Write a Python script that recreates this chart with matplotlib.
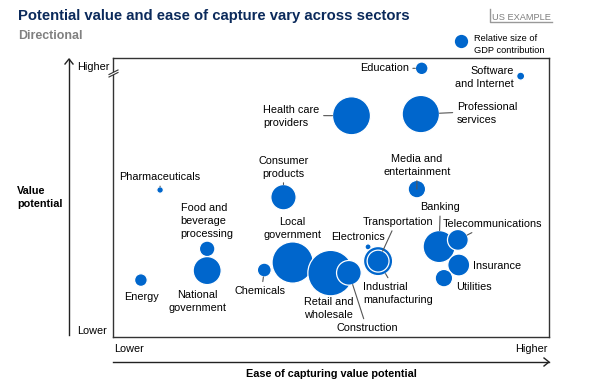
import numpy as np
import matplotlib
matplotlib.use('Agg')
import matplotlib.pyplot as plt
from matplotlib.lines import Line2D
from matplotlib.patches import Polygon

plt.rcParams['font.family'] = ['Liberation Sans', 'DejaVu Sans']

# Data: ease of capture (x, 0-100), value potential (y, 0-100), relative GDP size
sectors = ['Education', 'Software\nand Internet', 'Health care\nproviders',
           'Professional\nservices', 'Consumer\nproducts', 'Pharmaceuticals',
           'Media and\nentertainment', 'Food and\nbeverage\nprocessing',
           'National\ngovernment', 'Energy', 'Chemicals', 'Local\ngovernment',
           'Retail and\nwholesale', 'Construction', 'Electronics',
           'Industrial\nmanufacturing', 'Transportation', 'Banking',
           'Telecommunications', 'Insurance', 'Utilities']
ease = [70.8, 93.5, 54.7, 70.6, 39.1, 10.8, 69.7, 21.6, 21.6, 6.4, 34.7, 41.2,
        49.9, 54.1, 58.5, 60.8, 60.8, 74.8, 79.1, 79.3, 75.9]
value = [96.3, 93.5, 79.3, 79.9, 50.1, 52.7, 53.0, 31.6, 23.8, 20.4, 24.0, 26.7,
         22.9, 23.0, 32.3, 27.2, 27.2, 32.4, 34.8, 25.8, 21.1]
gdp = [1.0, 0.4, 9.0, 8.7, 4.0, 0.27, 1.9, 1.5, 4.9, 1.0, 1.2, 10.6,
       12.9, 3.8, 0.23, 5.3, 3.0, 6.4, 2.7, 3.0, 1.9]
legend_gdp = 1.1

# label layout: offset (px, right/up), horizontal alignment, leader line anchor
label_layout = {
    'Education': (-13, 0, 'right', (1, 0.5)),
    'Software\nand Internet': (-7, -1, 'right', None),
    'Health care\nproviders': (-32, -1, 'right', (1, 0.55)),
    'Professional\nservices': (36, 0.5, 'left', (0, 0.55)),
    'Consumer\nproducts': (0, 30, 'center', (0.5, 0)),
    'Pharmaceuticals': (0, 13, 'center', (0.5, 0)),
    'Media and\nentertainment': (0, 24, 'center', (0.5, 0)),
    'Food and\nbeverage\nprocessing': (0, 27.7, 'center', None),
    'National\ngovernment': (-10, -31, 'center', None),
    'Energy': (0.5, -16.7, 'center', None),
    'Chemicals': (-4.6, -20.7, 'center', (0.55, 1)),
    'Local\ngovernment': (0, 34, 'center', None),
    'Retail and\nwholesale': (-2, -35.5, 'center', None),
    'Construction': (18, -55, 'center', (0.47, 1)),
    'Electronics': (-10, 9.7, 'center', None),
    'Industrial\nmanufacturing': (-15, -32, 'left', (0.39, 1)),
    'Transportation': (20, 39.3, 'center', (0.44, 0)),
    'Banking': (1, 39.7, 'center', (0.5, 0)),
    'Telecommunications': (34.5, 15.7, 'center', (0.36, 0)),
    'Insurance': (14.3, -1, 'left', None),
    'Utilities': (12, -9.3, 'left', None),
}
left_aligned = ['Food and\nbeverage\nprocessing', 'Retail and\nwholesale',
                'Industrial\nmanufacturing', 'Health care\nproviders',
                'Professional\nservices']

BLUE = '#0066CC'
W, H = 595, 387


def fx(x):
    return x / W


def fy(y):
    return 1 - y / H


fig = plt.figure(figsize=(5.95, 3.87), dpi=100)
ax = fig.add_axes([fx(113), fy(337), (549 - 113) / W, (337 - 58) / H])
ax.set_xlim(0, 100)
ax.set_ylim(0, 100)
ax.set_xticks([])
ax.set_yticks([])
for sp in ax.spines.values():
    sp.set_color('#333333')
    sp.set_linewidth(1.0)

# bubbles (area proportional to gdp)
sizes = np.array(gdp) * 83
ax.scatter(ease, value, s=sizes, color=BLUE, edgecolors='white',
           linewidths=0.9, zorder=3, clip_on=False)

for name, x, y, g in zip(sectors, ease, value, gdp):
    dx, dy, ha, rel = label_layout[name]
    if name in left_aligned:
        ma = 'left'
    elif ha == 'right':
        ma = 'right'
    else:
        ma = 'center'
    kw = {}
    if rel is not None:
        r_pt = 0.72 * np.sqrt(40 * g)
        kw['arrowprops'] = dict(arrowstyle='-', color='#555555', lw=0.8,
                                relpos=rel, shrinkA=1, shrinkB=r_pt)
    ax.annotate(name, (x, y), xytext=(dx, dy), textcoords='offset pixels',
                ha=ha, va='center', multialignment=ma, fontsize=7.8,
                linespacing=1.35, color='black', zorder=4, **kw)

# titles
fig.text(fx(18), fy(20), 'Potential value and ease of capture vary across sectors',
         fontsize=10.7, fontweight='bold', color='#0B2A5B', va='baseline')
fig.text(fx(18), fy(39), 'Directional', fontsize=8.9, fontweight='bold',
         color='#808080', va='baseline')

# US EXAMPLE tag
fig.text(fx(492), fy(19.5), 'US EXAMPLE', fontsize=6.7, color='#7F7F7F',
         va='baseline')
fig.add_artist(Line2D([fx(490), fx(490), fx(552)], [fy(9), fy(22), fy(22)],
                      color='#999999', lw=1.0))

# legend
fig.add_artist(Line2D([fx(461)], [fy(40.7)], marker='o', linestyle='none',
                      markersize=1.44 * np.sqrt(40 * legend_gdp),
                      color=BLUE, markeredgewidth=0))
fig.text(fx(474), fy(44.5), 'Relative size of\nGDP contribution', fontsize=6.7,
         va='center', linespacing=1.35)

# axis arrows
fig.add_artist(Line2D([fx(69), fx(69)], [fy(335), fy(59)], color='#222222', lw=1.0))
fig.add_artist(Line2D([fx(65), fx(69), fx(73)], [fy(64), fy(59), fy(64)],
                      color='#222222', lw=1.0))
fig.add_artist(Line2D([fx(113), fx(549)], [fy(362), fy(362)], color='#222222', lw=1.0))
fig.add_artist(Line2D([fx(544), fx(549), fx(544)], [fy(358), fy(362), fy(366)],
                      color='#222222', lw=1.0))

# axis break on the left edge
fig.add_artist(Polygon([[fx(110), fy(74)], [fx(117), fy(70.5)], [fx(117), fy(73)],
                        [fx(110), fy(76.5)]], closed=True, facecolor='white',
                       edgecolor='none', zorder=5))
fig.add_artist(Line2D([fx(109), fx(118)], [fy(74.5), fy(70)], color='#333333',
                      lw=0.8, zorder=6))
fig.add_artist(Line2D([fx(109), fx(118)], [fy(77), fy(72.5)], color='#333333',
                      lw=0.8, zorder=6))

# axis texts
fig.text(fx(77), fy(69.5), 'Higher', fontsize=7.8, va='baseline')
fig.text(fx(77), fy(334), 'Lower', fontsize=7.8, va='baseline')
fig.text(fx(114), fy(351.7), 'Lower', fontsize=7.8, va='baseline')
fig.text(fx(548), fy(351.7), 'Higher', fontsize=7.8, va='baseline', ha='right')
fig.text(fx(17), fy(186), 'Value\npotential', fontsize=7.8, fontweight='bold',
         va='top', linespacing=1.35)
fig.text(fx(331.5), fy(376.7), 'Ease of capturing value potential', fontsize=7.8,
         fontweight='bold', va='baseline', ha='center')

fig.savefig('out.png', dpi=100)
